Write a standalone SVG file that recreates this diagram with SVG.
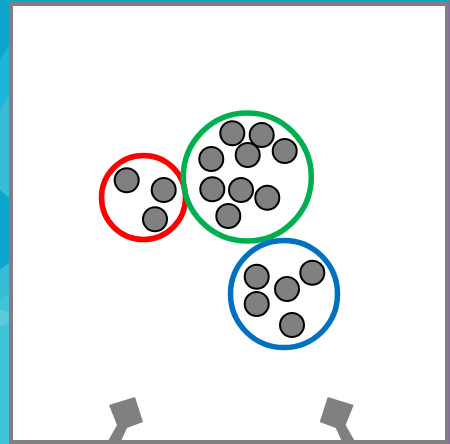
<svg xmlns="http://www.w3.org/2000/svg" width="450" height="444" viewBox="0 0 450 444">
<style>
.ball{fill:#808080;stroke:#000;stroke-width:2}
.ring{fill:none;stroke-width:5.5}
.leg{fill:#808080}
</style>
<rect x="0" y="0" width="450" height="444" fill="#0ca6cc"/>
<polygon points="0,90 12,70 12,200 0,190" fill="#3bbcd6"/>
<polygon points="0,270 12,260 12,330 0,300" fill="#3bbcd6"/>
<polygon points="0,300 12,290 12,444 0,444" fill="#40c2d8"/>
<polygon points="0,60 12,40 12,90 0,110" fill="#1cb4d8"/>
<circle cx="2" cy="318" r="8" fill="#6dd0e0" opacity="0.6"/>
<rect x="11" y="4" width="436" height="438" fill="#fff" stroke="#808080" stroke-width="4"/>
<g id="red-group">
<circle class="ring" cx="143.5" cy="197.5" r="42" stroke="#ff0000"/>
<circle class="ball" cx="126.7" cy="180.3" r="12"/>
<circle class="ball" cx="163.7" cy="190" r="12"/>
<circle class="ball" cx="155" cy="219.3" r="12"/>
</g>
<g id="green-group">
<circle class="ring" cx="247.3" cy="177" r="64" stroke="#00b050"/>
<circle class="ball" cx="232.3" cy="133.3" r="12"/>
<circle class="ball" cx="261.7" cy="135" r="12"/>
<circle class="ball" cx="247.7" cy="155" r="12"/>
<circle class="ball" cx="284.7" cy="151" r="12"/>
<circle class="ball" cx="211.3" cy="159" r="12"/>
<circle class="ball" cx="212.3" cy="189.3" r="12"/>
<circle class="ball" cx="241" cy="190" r="12"/>
<circle class="ball" cx="267.3" cy="197.7" r="12"/>
<circle class="ball" cx="228.3" cy="216" r="12"/>
</g>
<g id="blue-group">
<circle class="ring" cx="284" cy="294" r="53.5" stroke="#0070c0"/>
<circle class="ball" cx="256.7" cy="276.7" r="12"/>
<circle class="ball" cx="312.3" cy="272.7" r="12"/>
<circle class="ball" cx="287" cy="289" r="12"/>
<circle class="ball" cx="256.7" cy="304" r="12"/>
<circle class="ball" cx="292" cy="325" r="12"/>
</g>
<g id="left-leg">
<polygon class="leg" points="109,405 135,397 143,422 127,428 121,441 108,441 117,425"/>
</g>
<g id="right-leg">
<polygon class="leg" points="353.7,405 327.7,397 319.7,422 335.7,428 341.7,441 354.7,441 345.7,425"/>
</g>
<g id="connectors"></g>
</svg>
